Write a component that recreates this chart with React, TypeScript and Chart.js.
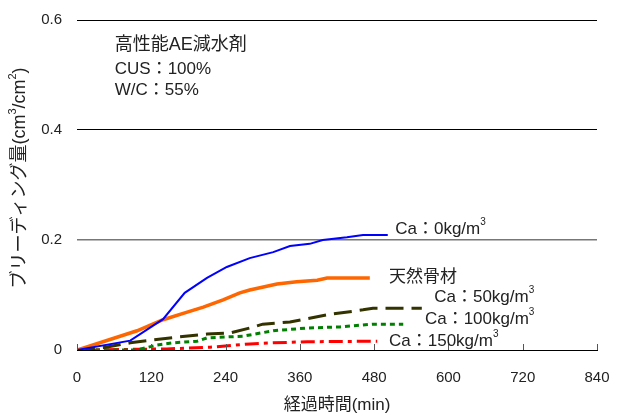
import React, { useEffect, useRef } from 'react';
import { Chart, registerables } from 'chart.js';
Chart.register(...registerables);

// Elapsed time (min) and bleeding amount (cm3/cm2)
const ca0Time = [0, 86, 139, 174, 210, 242, 279, 317, 344, 376, 397, 436, 462, 502];
const ca0Vals = [0, 0.017, 0.056, 0.104, 0.131, 0.151, 0.167, 0.178, 0.189, 0.193, 0.2, 0.205, 0.209, 0.209];

const naturalTime = [0, 42, 97, 139, 178, 204, 236, 263, 279, 323, 355, 388, 404, 473];
const naturalVals = [0, 0.015, 0.035, 0.055, 0.069, 0.078, 0.091, 0.104, 0.109, 0.12, 0.124, 0.127, 0.131, 0.131];

const ca50Time = [0, 42, 86, 150, 210, 247, 279, 300, 344, 404, 462, 478, 557];
const ca50Vals = [0, 0.004, 0.013, 0.022, 0.029, 0.031, 0.04, 0.047, 0.051, 0.064, 0.073, 0.076, 0.076];

const ca100Time = [0, 97, 129, 155, 194, 210, 247, 268, 317, 372, 425, 478, 527];
const ca100Vals = [0, 0.0, 0.009, 0.013, 0.016, 0.022, 0.024, 0.025, 0.035, 0.04, 0.042, 0.047, 0.047];

const ca150Time = [0, 145, 215, 279, 317, 372, 485];
const ca150Vals = [0, 0.002, 0.005, 0.011, 0.013, 0.015, 0.016];

const xTicks = [0, 120, 240, 360, 480, 600, 720, 840];
const yTicks = [0, 0.2, 0.4, 0.6];

const xTitle = '経過時間(min)';
const noteLines = ['高性能AE減水剤', 'CUS：100%', 'W/C：55%'];

const FONT = "'Liberation Sans', 'Noto Sans CJK JP', Arial, sans-serif";

type Seg = { t: string; sup?: boolean };
type Label = { x: number; y: number; segs: Seg[] };

const seriesLabels: Label[] = [
  { x: 514, y: 0.22, segs: [{ t: 'Ca：0kg/m' }, { t: '3', sup: true }] },
  { x: 504, y: 0.133, segs: [{ t: '天然骨材' }] },
  { x: 577, y: 0.096, segs: [{ t: 'Ca：50kg/m' }, { t: '3', sup: true }] },
  { x: 562, y: 0.056, segs: [{ t: 'Ca：100kg/m' }, { t: '3', sup: true }] },
  { x: 504, y: 0.016, segs: [{ t: 'Ca：150kg/m' }, { t: '3', sup: true }] },
];

const yTitleSegs: Seg[] = [
  { t: 'ブリーディング量(cm' },
  { t: '3', sup: true },
  { t: '/cm' },
  { t: '2', sup: true },
  { t: ')' },
];

function toPts(xs: number[], ys: number[]) {
  return xs.map((x, i) => ({ x, y: ys[i] }));
}

function segWidth(ctx: CanvasRenderingContext2D, segs: Seg[], size: number) {
  let w = 0;
  for (const s of segs) {
    ctx.font = `${s.sup ? Math.round(size * 0.6) : size}px ${FONT}`;
    w += ctx.measureText(s.t).width;
  }
  return w;
}

function drawSegs(ctx: CanvasRenderingContext2D, segs: Seg[], x: number, y: number, size: number) {
  let cx = x;
  ctx.textBaseline = 'middle';
  ctx.textAlign = 'left';
  for (const s of segs) {
    const fs = s.sup ? Math.round(size * 0.6) : size;
    ctx.font = `${fs}px ${FONT}`;
    ctx.fillText(s.t, cx, s.sup ? y - size * 0.38 : y);
    cx += ctx.measureText(s.t).width;
  }
}

const annotPlugin = {
  id: 'annot',
  afterDraw(chart: any) {
    const ctx = chart.ctx as CanvasRenderingContext2D;
    const xs = chart.scales.x;
    const ys = chart.scales.y;
    const area = chart.chartArea;
    ctx.save();
    // inner tick marks on x axis
    ctx.strokeStyle = '#555';
    ctx.lineWidth = 1;
    for (const v of xTicks) {
      const px = Math.round(xs.getPixelForValue(v)) + 0.5;
      ctx.beginPath();
      ctx.moveTo(px, area.bottom);
      ctx.lineTo(px, area.bottom - 6);
      ctx.stroke();
    }
    ctx.fillStyle = '#222';
    // notes
    const noteX = xs.getPixelForValue(61);
    const noteYs = [0.555, 0.511, 0.473];
    noteLines.forEach((t, i) => {
      drawSegs(ctx, [{ t }], noteX, ys.getPixelForValue(noteYs[i]), i === 0 ? 18 : 17);
    });
    // series labels
    for (const l of seriesLabels) {
      drawSegs(ctx, l.segs, xs.getPixelForValue(l.x), ys.getPixelForValue(l.y), 17);
    }
    // x title
    ctx.font = `17px ${FONT}`;
    const xw = ctx.measureText(xTitle).width;
    drawSegs(ctx, [{ t: xTitle }], (area.left + area.right) / 2 - xw / 2, 405, 17);
    // y title
    const w = segWidth(ctx, yTitleSegs, 18);
    ctx.translate(20, 178);
    ctx.rotate(-Math.PI / 2);
    drawSegs(ctx, yTitleSegs, -w / 2, 0, 18);
    ctx.restore();
  },
};

export default function App() {
  const ref = useRef<HTMLCanvasElement | null>(null);
  useEffect(() => {
    if (!ref.current) return;
    const chart = new Chart(ref.current, {
      type: 'line',
      data: {
        datasets: [
          { label: 'Ca:0', data: toPts(ca0Time, ca0Vals), borderColor: '#0000FF', borderWidth: 2 },
          { label: '天然骨材', data: toPts(naturalTime, naturalVals), borderColor: '#FF6600', borderWidth: 3.5 },
          { label: 'Ca:50', data: toPts(ca50Time, ca50Vals), borderColor: '#333300', borderWidth: 3, borderDash: [18, 8] },
          { label: 'Ca:100', data: toPts(ca100Time, ca100Vals), borderColor: '#008000', borderWidth: 3, borderDash: [5, 4] },
          { label: 'Ca:150', data: toPts(ca150Time, ca150Vals), borderColor: '#FF0000', borderWidth: 3, borderDash: [14, 5, 4, 5] },
        ],
      },
      options: {
        animation: false,
        responsive: false,
        maintainAspectRatio: false,
        layout: { padding: { top: 20, right: 23, left: 0, bottom: 0 } },
        elements: { point: { radius: 0 }, line: { tension: 0, fill: false } },
        plugins: { legend: { display: false }, tooltip: { enabled: false }, title: { display: false } },
        scales: {
          x: {
            type: 'linear',
            min: 0,
            max: 840,
            afterBuildTicks: (s: any) => { s.ticks = xTicks.map((v) => ({ value: v })); },
            afterFit: (s: any) => { s.height = 64; s.paddingLeft = 0; s.paddingRight = 0; },
            grid: { display: false, drawTicks: false },
            border: { display: true, color: '#000', width: 1 },
            ticks: { padding: 19, color: '#222', font: { size: 15, family: FONT }, maxRotation: 0 },
          },
          y: {
            type: 'linear',
            min: 0,
            max: 0.6,
            afterBuildTicks: (s: any) => { s.ticks = yTicks.map((v) => ({ value: v })); },
            afterFit: (s: any) => { s.width = 77; s.paddingTop = 0; s.paddingBottom = 0; },
            grid: {
              drawTicks: false,
              color: (c: any) => (Math.abs(c.tick.value - 0.2) < 1e-6 ? '#777' : '#000'),
              lineWidth: (c: any) => (Math.abs(c.tick.value - 0.2) < 1e-6 ? 1.5 : 1),
            },
            border: { display: false },
            ticks: {
              padding: 15,
              color: '#222',
              font: { size: 15, family: FONT },
              callback: (v: any) => (v === 0 ? '0' : Number(v).toFixed(1)),
            },
          },
        },
      },
      plugins: [annotPlugin],
    });
    return () => chart.destroy();
  }, []);
  return (
    <div style={{ position: 'fixed', left: 0, top: 0, width: 620, height: 414, background: '#fff' }}>
      <canvas ref={ref} width={620} height={414} style={{ width: 620, height: 414 }} />
    </div>
  );
}
